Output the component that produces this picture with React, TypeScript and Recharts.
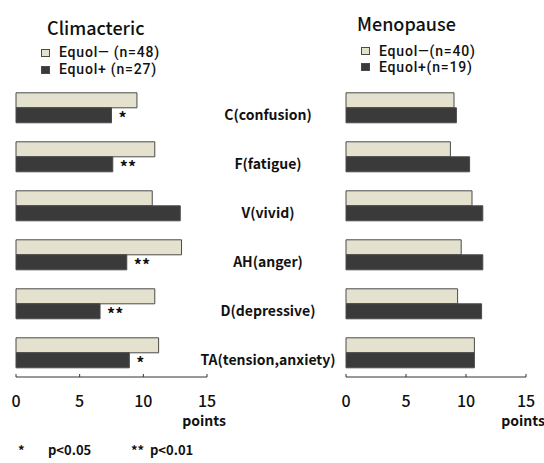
import React from 'react';
import { BarChart, Bar, XAxis, YAxis, LabelList } from 'recharts';

// POMS sub-scale scores
const categories = ['C(confusion)', 'F(fatigue)', 'V(vivid)', 'AH(anger)', 'D(depressive)', 'TA(tension,anxiety)'];
const climNeg = [9.5, 10.9, 10.7, 13.0, 10.9, 11.2];
const climPos = [7.5, 7.6, 12.9, 8.7, 6.6, 8.9];
const climSig = ['*', '**', '', '**', '**', '*'];
const menoNeg = [9.0, 8.7, 10.5, 9.6, 9.3, 10.7];
const menoPos = [9.2, 10.3, 11.4, 11.4, 11.3, 10.7];
const xTicks = [0, 5, 10, 15];
const bandTicks = [0, 1, 2, 3, 4, 5, 6];

const FONT = '"Noto Sans CJK JP", "Noto Sans", sans-serif';
const LEG_FONT = 'Roboto, "Noto Sans", sans-serif';
const LIGHT = '#e4e2cf';
const DARK = '#3a3a3a';
const EDGE = '#4a4a4a';

const climData = categories.map((cat, i) => ({ cat, neg: climNeg[i], pos: climPos[i], sig: climSig[i] }));
const menoData = categories.map((cat, i) => ({ cat, neg: menoNeg[i], pos: menoPos[i] }));

const XTick = ({ x, y, payload }: any) => (
  <g>
    <line x1={x} x2={x} y1={y} y2={y - 3} stroke="#333" />
    <text x={x} y={y + 30} textAnchor="middle" fontSize={16} fontFamily={FONT} fontWeight={500} fill="#111">
      {payload.value}
    </text>
    {payload.value === 15 && (
      <text x={x - 3} y={y + 49} textAnchor="middle" fontSize={14} fontFamily={FONT} fontWeight={700} fill="#111">
        points
      </text>
    )}
  </g>
);

const CatTick = ({ x, y, payload }: any) => (
  <text x={x + 61} y={y + 12} textAnchor="middle" fontSize={14} fontFamily={FONT} fontWeight={700} fill="#111">
    {payload.value}
  </text>
);

const SigLabel = ({ x, y, width, height, value }: any) =>
  value ? (
    <text x={x + width + 7} y={y + height / 2 + 9} fontSize={16} fontFamily={FONT} fontWeight={700} fill="#111">
      {value}
    </text>
  ) : null;

const Panel = ({ data, withLabels, width, margin }: any) => (
  <BarChart layout="vertical" width={width} height={463} data={data} margin={margin} barCategoryGap="20%" barGap={0}>
    <XAxis type="number" domain={[0, 15]} ticks={xTicks} height={30} tickSize={0} tickMargin={0}
      axisLine={{ stroke: '#333' }} tickLine={false} tick={<XTick />} />
    <YAxis yAxisId="cat" type="category" dataKey="cat" width={0} tick={false} tickLine={false}
      axisLine={{ stroke: '#333' }} />
    <YAxis yAxisId="band" type="number" domain={[0, 6]} ticks={bandTicks} width={0} tick={false}
      axisLine={false} mirror tickSize={3} tickLine={{ stroke: '#555' }} />
    {withLabels && (
      <YAxis yAxisId="lab" orientation="right" type="category" dataKey="cat" width={133}
        axisLine={false} tickLine={false} tickSize={0} tickMargin={0} tick={<CatTick />} />
    )}
    <Bar yAxisId="cat" dataKey="neg" fill={LIGHT} stroke={EDGE} isAnimationActive={false} />
    <Bar yAxisId="cat" dataKey="pos" fill={DARK} stroke={EDGE} isAnimationActive={false}>
      {withLabels && <LabelList dataKey="sig" content={<SigLabel />} />}
    </Bar>
  </BarChart>
);

const LegendBox = ({ left, top, title, items, gap, row, indent }: any) => (
  <div style={{ position: 'absolute', left, top, color: '#111' }}>
    <div style={{ fontFamily: FONT, fontSize: 18, fontWeight: 500, lineHeight: '22px', height: 22, marginLeft: 6 }}>{title}</div>
    <div style={{ height: gap }} />
    {items.map((it: any) => (
      <div key={it.label} style={{ display: 'flex', alignItems: 'center', fontFamily: LEG_FONT, fontSize: 14,
        fontWeight: 500, letterSpacing: 0.8, lineHeight: `${row}px`, height: row, whiteSpace: 'pre', marginLeft: indent }}>
        <span style={{ width: 7, height: 6, background: it.color, border: `1px solid ${EDGE}`, marginRight: 9 }} />
        {it.label}
      </div>
    ))}
  </div>
);

const Foot = ({ left, text }: any) => (
  <span style={{ position: 'absolute', left, top: 0, whiteSpace: 'pre' }}>{text}</span>
);

export default function App() {
  return (
    <div style={{ position: 'relative', width: 544, height: 463, background: '#fff', overflow: 'hidden' }}>
      <style>{'body{margin:0}'}</style>
      <div style={{ position: 'absolute', left: 0, top: 0 }}>
        <Panel data={climData} withLabels width={340} margin={{ top: 83, right: 0, bottom: 56, left: 16 }} />
      </div>
      <div style={{ position: 'absolute', left: 330, top: 0 }}>
        <Panel data={menoData} withLabels={false} width={214} margin={{ top: 83, right: 18, bottom: 56, left: 16 }} />
      </div>
      <LegendBox left={41} top={16} gap={6} row={17} indent={0} title="Climacteric" items={[
        { label: 'Equol— (n=48)', color: LIGHT },
        { label: 'Equol+ (n=27)', color: DARK },
      ]} />
      <LegendBox left={351} top={12} gap={9} row={16} indent={10} title="Menopause" items={[
        { label: 'Equol—(n=40)', color: LIGHT },
        { label: 'Equol+(n=19)', color: DARK },
      ]} />
      <div style={{ position: 'absolute', left: 0, top: 441, height: 18, width: 544, fontFamily: FONT, fontSize: 13,
        fontWeight: 700, lineHeight: '18px', color: '#111' }}>
        <Foot left={18} text="*" />
        <Foot left={48} text="p<0.05" />
        <Foot left={131} text="**" />
        <Foot left={150} text="p<0.01" />
      </div>
    </div>
  );
}
